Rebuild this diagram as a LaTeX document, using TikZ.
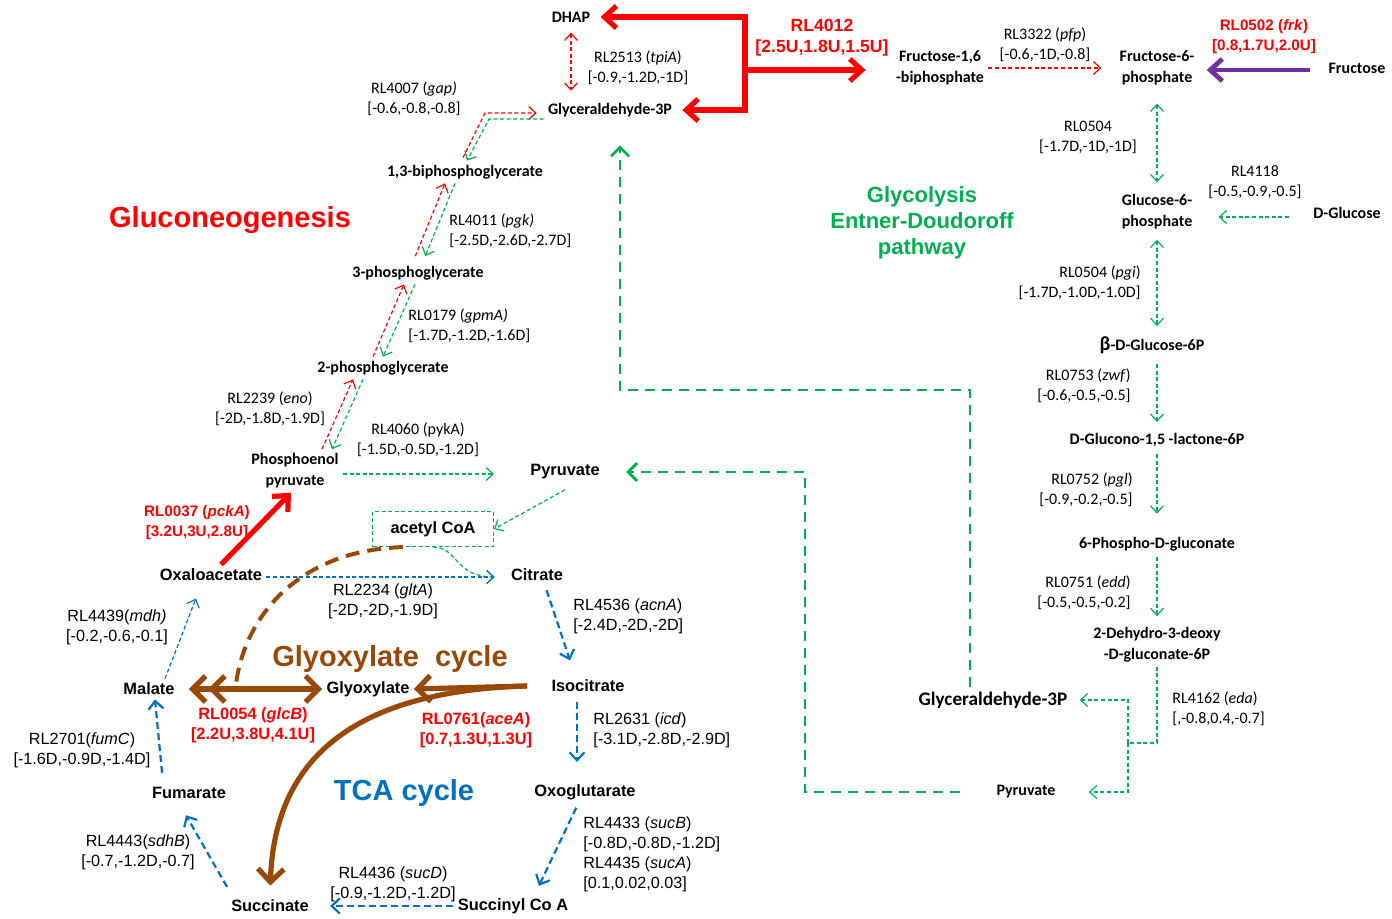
\documentclass[tikz,border=0pt]{standalone}
\usepackage{fontspec}
\setmainfont{Carlito}
\newfontfamily\arialf{Liberation Sans}
\usetikzlibrary{arrows.meta}
\definecolor{gogreen}{RGB}{0,176,80}
\definecolor{goblue}{RGB}{0,112,192}
\definecolor{gobrown}{RGB}{152,72,7}
\definecolor{gopurple}{RGB}{112,48,160}
\newcommand\flabc{\fontsize{8}{10}\selectfont}
\newcommand\fmetc{\fontsize{8}{10.5}\selectfont\bfseries}
\newcommand\fmetb{\fontsize{9.6}{11}\selectfont\bfseries}
\newcommand\flaba{\arialf\fontsize{8.1}{10}\selectfont}
\newcommand\fmeta{\arialf\fontsize{8.2}{10}\selectfont\bfseries}
\newcommand\flabr{\arialf\fontsize{8.2}{10}\selectfont\bfseries}
\newcommand\fttl{\arialf\fontsize{14.5}{16}\selectfont\bfseries}
\newcommand\fgttl{\arialf\fontsize{11}{13}\selectfont\bfseries}
\begin{document}
\begin{tikzpicture}[x=0.5pt,y=-0.5pt,
  met/.style={font=\fmetc,align=center,inner sep=2pt},
  amet/.style={font=\fmeta,align=center,inner sep=2pt},
  lab/.style={font=\flabc,align=center,inner sep=1pt},
  alab/.style={font=\flaba,align=center,inner sep=1pt},
  rlab/.style={font=\flabr,text=red,align=center,inner sep=1pt},
  arr/.style={-{Straight Barb[length=3.5pt,width=6.5pt]}},
  twoway/.style={arrows={Straight Barb[length=3.5pt,width=6.5pt]}-{Straight Barb[length=3.5pt,width=6.5pt]}},
  arrb/.style={-{Straight Barb[length=4pt,width=7.5pt]}},
  rdash/.style={red,line width=0.6pt,dash pattern=on 2pt off 1.3pt},
  gdash/.style={gogreen,line width=0.6pt,dash pattern=on 2pt off 1.3pt},
  bdash/.style={goblue,line width=0.6pt,dash pattern=on 2pt off 1.3pt},
  bdashb/.style={goblue,line width=1.1pt,dash pattern=on 3.5pt off 2pt},
  gbig/.style={gogreen,line width=1.4pt,dash pattern=on 5pt off 3.5pt,-{Straight Barb[length=4.5pt,width=9pt]}},
  rbig/.style={red,line width=2.6pt,-{Straight Barb[length=6pt,width=11pt]}},
  pbig/.style={gopurple,line width=2.4pt,-{Straight Barb[length=6pt,width=11pt]}},
  brbig/.style={gobrown,line width=2.6pt,-{Straight Barb[length=6.5pt,width=13pt]}},
  brtwo/.style={gobrown,line width=2.6pt,arrows={Straight Barb[length=6.5pt,width=13pt]Straight Barb[length=6.5pt,width=13pt]}-{Straight Barb[length=6.5pt,width=13pt]}},
  brdash/.style={gobrown,line width=2pt,dash pattern=on 7pt off 4pt}]
\useasboundingbox (0,0) rectangle (1392,919);

\node[met] (dhap) at (571,17) {DHAP};
\node[met] (g3p) at (610,110) {Glyceraldehyde-3P};
\node[met] (f16bp) at (940,68) {Fructose-1,6\\-biphosphate};
\node[met] (f6p) at (1157,68) {Fructose-6-\\phosphate};
\node[met] (fru) at (1357,68) {Fructose};
\node[met] (g6p) at (1157,212) {Glucose-6-\\phosphate};
\node[met] (dglc) at (1347,213) {D-Glucose};
\node[met] (bg6p) at (1152,345) {{\fontsize{10}{10}\selectfont β}-D-Glucose-6P};
\node[met] (lac6p) at (1157,440) {D-Glucono-1,5 -lactone-6P};
\node[met] (pglu) at (1157,544) {6-Phospho-D-gluconate};
\node[met] (kdpg) at (1157,645) {2-Dehydro-3-deoxy\\-D-gluconate-6P};
\node[met,font=\fmetb] (g3pb) at (993,700) {Glyceraldehyde-3P};
\node[met] (pyrb) at (1026,792) {Pyruvate};
\node[met] (bpg) at (465,172) {1,3-biphosphoglycerate};
\node[met] (pg3) at (418,273) {3-phosphoglycerate};
\node[met] (pg2) at (383,368) {2-phosphoglycerate};
\node[met] (pep) at (295,471) {Phosphoenol\\pyruvate};

\node[amet] (pyr) at (565,472) {Pyruvate};
\node[amet,draw=gogreen,line width=0.6pt,dash pattern=on 2pt off 1.3pt,minimum width=60.5pt,minimum height=17.5pt] (acoa) at (433,529) {acetyl CoA};
\node[amet] (oaa) at (211,575) {Oxaloacetate};
\node[amet] (cit) at (537,575) {Citrate};
\node[amet] (mal) at (149,689) {Malate};
\node[amet] (glx) at (368,689) {Glyoxylate};
\node[amet] (icit) at (588,686) {Isocitrate};
\node[amet] (fum) at (189,793) {Fumarate};
\node[amet] (oxo) at (585,792) {Oxoglutarate};
\node[amet] (scoa) at (513,906) {Succinyl Co A};
\node[amet] (suc) at (270,906) {Succinate};

\node[lab] (ltpia) at (638,68) {RL2513 (\textit{tpiA})\\{}[-0.9,-1.2D,-1D]};
\node[lab] (lgap) at (414,99) {RL4007 (\textit{gap)}\\{}[-0.6,-0.8,-0.8]};
\node[lab] (lpfp) at (1045,45) {RL3322 (\textit{pfp})\\{}[-0.6,-1D,-0.8]};
\node[lab] (l0504) at (1088,137) {RL0504\\{}[-1.7D,-1D,-1D]};
\node[lab] (l4118) at (1255,182) {RL4118\\{}[-0.5,-0.9,-0.5]};
\node[lab,align=right,anchor=east] (lpgi) at (1143,283) {RL0504 (\textit{pgi})\\{}[-1.7D,-1.0D,-1.0D]};
\node[lab,align=right,anchor=east] (lzwf) at (1133,386) {RL0753 (\textit{zwf})\\{}[-0.6,-0.5,-0.5]};
\node[lab,align=right,anchor=east] (lpgl) at (1135,490) {RL0752 (\textit{pgl})\\{}[-0.9,-0.2,-0.5]};
\node[lab,align=right,anchor=east] (ledd) at (1133,593) {RL0751 (\textit{edd})\\{}[-0.5,-0.5,-0.2]};
\node[lab,align=left,anchor=west] (leda) at (1170,709) {RL4162 (\textit{eda})\\{}[,-0.8,0.4,-0.7]};
\node[lab,align=left,anchor=west] (lpgk) at (447,231) {RL4011 (\textit{pgk)}\\{}[-2.5D,-2.6D,-2.7D]};
\node[lab,align=left,anchor=west] (lgpma) at (406,326) {RL0179 (\textit{gpmA)}\\{}[-1.7D,-1.2D,-1.6D]};
\node[lab] (leno) at (270,409) {RL2239 (\textit{eno})\\{}[-2D,-1.8D,-1.9D]};
\node[lab] (lpyka) at (418,440) {RL4060 (pykA)\\{}[-1.5D,-0.5D,-1.2D]};

\node[alab] (lglta) at (383,601) {RL2234 (\textit{gltA})\\{}[-2D,-2D,-1.9D]};
\node[alab] (lmdh) at (117,627) {RL4439(\textit{mdh)}\\{}[-0.2,-0.6,-0.1]};
\node[alab,align=left,anchor=west] (lacna) at (571,616) {RL4536 (\textit{acnA})\\{}[-2.4D,-2D,-2D]};
\node[alab,align=left,anchor=west] (licd) at (591,730) {RL2631 (\textit{icd})\\{}[-3.1D,-2.8D,-2.9D]};
\node[alab] (lfumc) at (82,750) {RL2701(\textit{fumC})\\{}[-1.6D,-0.9D,-1.4D]};
\node[alab] (lsdhb) at (138,852) {RL4443(\textit{sdhB})\\{}[-0.7,-1.2D,-0.7]};
\node[alab,align=left,anchor=west] (lsucb) at (581,854) {RL4433 (\textit{sucB})\\{}[-0.8D,-0.8D,-1.2D]\\RL4435 (\textit{sucA})\\{}[0.1,0.02,0.03]};
\node[alab] (lsucd) at (393,884) {RL4436 (\textit{sucD})\\{}[-0.9,-1.2D,-1.2D]};

\node[rlab,font=\arialf\fontsize{8.8}{10.5}\selectfont\bfseries] (l4012) at (822,38) {RL4012\\{}[2.5U,1.8U,1.5U]};
\node[rlab,font=\arialf\fontsize{7.6}{10}\selectfont\bfseries] (lfrk) at (1264,37) {RL0502 (\textit{frk})\\{}[0.8,1.7U,2.0U]};
\node[rlab,font=\arialf\fontsize{7.6}{10}\selectfont\bfseries] (lpcka) at (197,523) {RL0037 (\textit{pckA})\\{}[3.2U,3U,2.8U]};
\node[rlab] (lglcb) at (253,725) {RL0054 (\textit{glcB})\\{}[2.2U,3.8U,4.1U]};
\node[rlab] (lacea) at (476,730) {RL0761(\textit{aceA})\\{}[0.7,1.3U,1.3U]};

\node[font=\fttl,text=red] (tgng) at (230,220) {Gluconeogenesis};
\node[font=\fttl,text=gobrown] (tglx) at (390,659) {Glyoxylate\ \ cycle};
\node[font=\fttl,text=goblue] (ttca) at (404,793) {TCA cycle};
\node[font=\fgttl,text=gogreen,align=center] (tgly) at (922,223) {Glycolysis\\Entner-Doudoroff\\pathway};

\coordinate (rbr) at (745,70);
\coordinate (gapr) at (485,113);
\coordinate (gapg) at (489,119);
\coordinate (glxj) at (236,684);
\coordinate (gdmid) at (795,390);
\coordinate (edmid) at (805,630);
\coordinate (edaj) at (1128,743);

\draw[rbig,shorten >=3pt] (rbr) |- (dhap.east);
\draw[rbig,shorten >=3pt] (rbr) |- (g3p.east);
\draw[rbig,shorten >=13pt] (rbr) -- (rbr -| f16bp.west);
\draw[rdash,twoway,shorten <=3pt,shorten >=4pt] (dhap.south) -- (dhap.south |- g3p.north);
\draw[rdash,arr,shorten >=3.5pt] ([xshift=-1pt,yshift=1.5pt]bpg.north) -- (gapr) -- ([yshift=-1.5pt]g3p.west);
\draw[gdash,arr] ([yshift=-4.5pt]g3p.west) -- (gapg) -- ([xshift=1pt]bpg.north);
\draw[rdash,arr,shorten <=3pt] ([xshift=-2.5pt]pg3.north) -- ([xshift=-10pt]bpg.south);
\draw[gdash,arr,shorten >=3pt] ([xshift=-5pt]bpg.south) -- ([xshift=2.5pt]pg3.north);
\draw[rdash,arr] ([xshift=-5pt]pg2.north) -- ([xshift=-7pt]pg3.south);
\draw[gdash,arr] ([xshift=-1.5pt]pg3.south) -- (pg2.north);
\draw[rdash,arr] ([xshift=13.5pt]pep.north) -- ([xshift=-15pt]pg2.south);
\draw[gdash,arr] ([xshift=-10pt]pg2.south) -- ([xshift=18.5pt]pep.north);
\draw[gdash,arr,shorten >=16pt] ([yshift=-1.5pt]pep.east) -- ([yshift=-1.5pt]pep.east -| pyr.west);
\draw[gdash,arr] ([yshift=-3pt]pyr.south) -- (acoa.east);
\draw[gdash,arr] (acoa.south) .. controls +(25,0) and +(-40,0) .. ([xshift=-6pt,yshift=-1pt]cit.west);
\draw[bdash,arr] ([yshift=-1pt]oaa.east) -- ([xshift=-6pt,yshift=-1pt]cit.west);

\draw[rdash,arr,shorten >=7pt] (f16bp.east) -- (f16bp.east -| f6p.west);
\draw[pbig,shorten <=7pt,shorten >=4pt] ([yshift=-1pt]fru.west) -- ([yshift=-1pt]fru.west -| f6p.east);
\draw[gdash,twoway,shorten <=7pt,shorten >=4pt] (f6p.south) -- (f6p.south |- g6p.north);
\draw[gdash,arr,shorten <=10pt,shorten >=11pt] ([yshift=-2pt]dglc.west) -- ([yshift=-2pt]dglc.west -| g6p.east);
\draw[gdash,twoway,shorten <=3pt,shorten >=3pt] (g6p.south) -- (g6p.south |- bg6p.north);
\draw[gdash,arr,shorten <=3pt,shorten >=3.5pt] (g6p.south |- bg6p.south) -- (g6p.south |- lac6p.north);
\draw[gdash,arr,shorten <=1.5pt,shorten >=9.5pt] (lac6p.south) -- (pglu.north);
\draw[gdash,arr,shorten <=1pt,shorten >=3.5pt] (pglu.south) -- (kdpg.north);
\draw[gdash] (kdpg.south) |- (edaj);
\draw[gdash,arr,shorten >=4pt] (edaj) |- (g3pb.east);
\draw[gdash,arr,shorten >=14.5pt] (edaj) |- (pyrb.east);
\draw[gbig,shorten >=12pt] ([xshift=-11.5pt]g3pb.north) |- (gdmid) -| ([xshift=5pt]g3p.south);
\draw[gbig,shorten <=16pt,shorten >=11pt] (pyrb.west) -| (edmid) |- (pyr.east);

\draw[rbig] ([xshift=5pt]oaa.north) -- ([xshift=-2pt]pep.south);
\draw[bdash,arr,shorten >=7pt] ([xshift=8pt]mal.north) -- ([xshift=-5pt]oaa.south);
\draw[bdashb,arrb,shorten <=5pt] ([xshift=-13pt]fum.north) -- ([xshift=3pt]mal.south);
\draw[bdashb,arrb,shorten <=5pt,shorten >=7pt] ([xshift=-19pt]suc.north) -- ([xshift=-5pt]fum.south);
\draw[bdashb,arrb,shorten >=8.5pt] (scoa.west) -- (suc.east);
\draw[bdashb,arrb,shorten <=2pt,shorten >=4.5pt] ([xshift=-3.5pt]oxo.south) -- ([xshift=11pt]scoa.north);
\draw[bdashb,arrb,shorten <=3pt,shorten >=9pt] ([xshift=-5.5pt]icit.south) -- ([xshift=-4pt]oxo.north);
\draw[bdashb,arrb,shorten <=2.5pt,shorten >=8pt] ([xshift=4pt]cit.south) -- ([xshift=-6.5pt]icit.north);

\draw[brtwo,shorten <=5pt] (mal.east) -- (glx.west);
\draw[brbig] ([xshift=-10pt]icit.west) -- (glx.east);
\draw[brbig,shorten >=5pt] ([xshift=-10pt]icit.west) .. controls (380,690) and (275,740) .. (suc.north);
\draw[brdash] ([xshift=-15pt]acoa.south) .. controls (300,550) and (245,615) .. (glxj);
\end{tikzpicture}
\end{document}
